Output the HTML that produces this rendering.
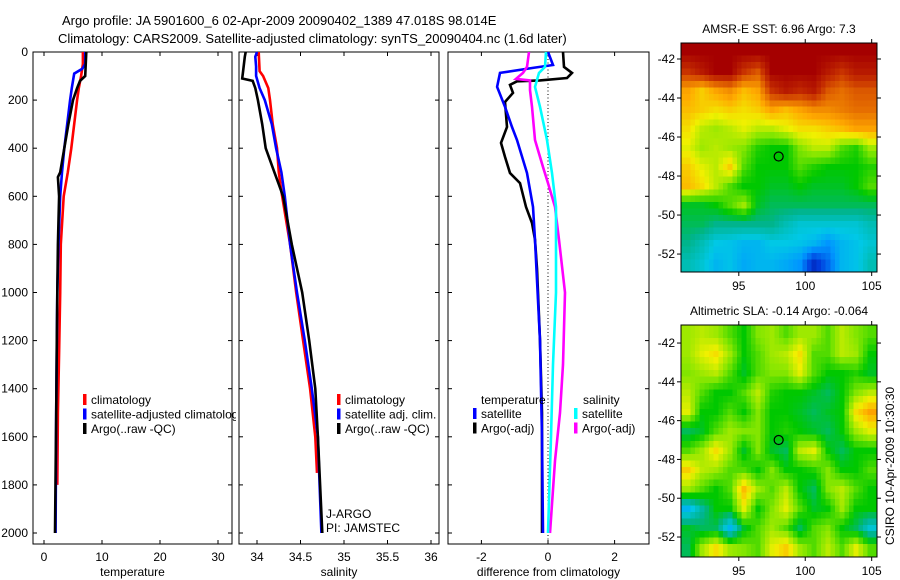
<!DOCTYPE html>
<html><head><meta charset="utf-8">
<style>
html,body{margin:0;padding:0;background:#fff;}
svg{display:block;font-family:"Liberation Sans",Arial,sans-serif;}
</style></head>
<body>
<svg id="fig" width="900" height="580" viewBox="0 0 900 580" xmlns="http://www.w3.org/2000/svg">
<text x="62" y="25" font-size="13">Argo profile: JA 5901600_6 02-Apr-2009 20090402_1389 47.018S 98.014E</text>
<text x="58" y="43" font-size="13">Climatology: CARS2009. Satellite-adjusted climatology: synTS_20090404.nc (1.6d later)</text>
</svg>
<script>
// ---------- data ----------
const depthTicks = [0,200,400,600,800,1000,1200,1400,1600,1800,2000];
const tempTicks = [0,10,20,30];
const salTicks = [34,34.5,35,35.5,36];
const salTickLabels = ["34","34.5","35","35.5","36"];
const diffTicks = [-2,0,2];

const tClimDepth = [0,50,100,150,200,300,400,500,600,800,1000,1250,1500,1800];
const tClimVal   = [6.7,6.7,6.4,6.0,5.7,5.2,4.7,4.1,3.4,2.9,2.8,2.6,2.4,2.3];
const tSatDepth  = [0,50,70,90,150,200,300,400,500,600,800,1000,1500,2000];
const tSatVal    = [7.1,7.1,6.6,5.2,4.8,4.5,4.0,3.5,3.1,2.8,2.5,2.3,2.1,2.0];
const tArgoDepth = [0,100,120,150,200,300,400,500,520,600,800,1000,1200,1500,2000];
const tArgoVal   = [7.3,7.1,6.2,5.7,5.0,4.2,3.5,2.8,2.4,2.6,2.4,2.3,2.2,2.1,1.9];

const sClimDepth = [0,80,100,150,200,300,400,500,580,800,1000,1200,1400,1600,1750];
const sClimVal   = [34.02,34.03,34.07,34.13,34.15,34.18,34.23,34.25,34.28,34.38,34.45,34.53,34.61,34.67,34.69];
const sSatDepth  = [0,20,60,100,150,200,300,400,500,600,800,1000,1200,1400,1600,1800,2000];
const sSatVal    = [34.0,33.98,33.99,33.99,34.03,34.09,34.17,34.22,34.28,34.32,34.38,34.46,34.55,34.63,34.70,34.72,34.74];
const sArgoDepth = [0,20,80,110,120,150,200,300,400,500,550,600,800,1000,1200,1400,1600,2000];
const sArgoVal   = [33.87,33.86,33.84,33.83,33.95,33.98,34.01,34.06,34.10,34.20,34.25,34.30,34.40,34.52,34.60,34.67,34.70,34.75];

const dTempArgoDepth = [0,62,87,108,118,122,137,170,208,312,378,436,503,545,644,711,781,900,1200,1500,2000];
const dTempArgoVal   = [0.45,0.48,0.72,0.57,-0.24,-0.93,-1.14,-1.05,-1.29,-1.23,-1.41,-1.29,-1.14,-0.84,-0.66,-0.48,-0.39,-0.33,-0.24,-0.18,-0.18];
const dTempSatDepth  = [0,54,66,87,145,228,312,366,503,644,781,1200,1600,2000];
const dTempSatVal    = [0,0.15,-0.45,-1.44,-1.53,-1.29,-1.08,-0.93,-0.63,-0.45,-0.39,-0.24,-0.18,-0.15];
const dSalArgoDepth  = [0,62,87,112,118,158,228,366,478,545,644,781,1000,1300,1500,1700,2000];
const dSalArgoVal    = [-0.57,-0.63,-0.75,-0.96,-0.54,-0.54,-0.48,-0.39,-0.15,0,0.21,0.33,0.51,0.45,0.36,0.21,0.06];
const dSalSatDepth   = [0,62,87,145,228,366,503,644,781,1000,1300,1600,2000];
const dSalSatVal     = [-0.06,-0.09,-0.27,-0.39,-0.24,-0.03,0.12,0.24,0.24,0.24,0.15,0.09,0.0];

const sstGrid = [
[1,1,1,1,1,1,1,1,1,1,1,1,1,1],
[0.9,0.95,1,1,0.9,0.85,1,1,1,1,0.95,0.9,0.95,0.95],
[0.75,0.7,0.75,0.78,0.72,0.75,0.9,0.95,0.92,0.95,0.85,0.82,0.85,0.85],
[0.72,0.7,0.68,0.7,0.68,0.7,0.75,0.72,0.75,0.78,0.78,0.8,0.82,0.82],
[0.68,0.62,0.6,0.62,0.65,0.62,0.62,0.65,0.68,0.68,0.7,0.72,0.75,0.75],
[0.65,0.6,0.62,0.6,0.58,0.52,0.5,0.5,0.58,0.62,0.62,0.55,0.52,0.6],
[0.7,0.65,0.62,0.7,0.55,0.5,0.5,0.5,0.55,0.52,0.5,0.5,0.5,0.52],
[0.72,0.68,0.62,0.55,0.5,0.5,0.48,0.48,0.5,0.48,0.48,0.48,0.5,0.55],
[0.48,0.48,0.5,0.55,0.6,0.48,0.45,0.45,0.45,0.45,0.45,0.45,0.45,0.45],
[0.45,0.45,0.42,0.42,0.42,0.42,0.42,0.38,0.35,0.35,0.35,0.35,0.35,0.38],
[0.42,0.38,0.33,0.32,0.3,0.3,0.33,0.33,0.32,0.3,0.25,0.3,0.32,0.35],
[0.38,0.35,0.3,0.32,0.28,0.3,0.3,0.28,0.25,0.12,0.2,0.3,0.32,0.38]];
const slaGrid = [
[0.6,0.62,0.6,0.55,0.5,0.58,0.6,0.55,0.6,0.6,0.55,0.62,0.58,0.55],
[0.6,0.65,0.68,0.6,0.5,0.55,0.6,0.62,0.68,0.55,0.55,0.62,0.6,0.5],
[0.58,0.6,0.62,0.55,0.48,0.55,0.58,0.58,0.65,0.55,0.5,0.5,0.52,0.48],
[0.62,0.55,0.5,0.5,0.55,0.62,0.52,0.5,0.5,0.48,0.45,0.5,0.58,0.62],
[0.65,0.5,0.5,0.55,0.5,0.58,0.5,0.5,0.48,0.45,0.48,0.5,0.68,0.75],
[0.45,0.48,0.55,0.6,0.58,0.58,0.5,0.52,0.5,0.48,0.45,0.5,0.6,0.65],
[0.55,0.6,0.68,0.6,0.48,0.58,0.48,0.45,0.62,0.65,0.5,0.45,0.5,0.5],
[0.7,0.62,0.6,0.55,0.55,0.5,0.58,0.5,0.5,0.52,0.58,0.5,0.5,0.55],
[0.6,0.55,0.5,0.55,0.72,0.6,0.55,0.62,0.5,0.45,0.58,0.62,0.55,0.5],
[0.3,0.4,0.5,0.5,0.65,0.5,0.58,0.65,0.55,0.48,0.5,0.6,0.5,0.5],
[0.48,0.45,0.45,0.3,0.48,0.55,0.6,0.55,0.45,0.55,0.58,0.5,0.45,0.35],
[0.45,0.6,0.68,0.6,0.58,0.55,0.65,0.7,0.6,0.55,0.62,0.55,0.65,0.55]];
const lonTicks = [95,100,105];
const latTicks = [-42,-44,-46,-48,-50,-52];
const argoLon = 98.0, argoLat = -47.0;

// ---------- helpers ----------
const NS = "http://www.w3.org/2000/svg";
const svg = document.getElementById('fig');
function mk(tag, attrs, parent){
  const e = document.createElementNS(NS, tag);
  for (const k in attrs) e.setAttribute(k, attrs[k]);
  (parent||svg).appendChild(e);
  return e;
}
const yD = d => 52 + d * 0.2405;
const TOP = 52, BOT = 544;

function panel(name, x0, x1, xs, ticks, labels, xlabel, showY){
  const g = mk('g', {});
  
  
  const r = mk('rect', {x:x0, y:TOP, width:x1-x0, height:BOT-TOP, fill:'none', stroke:'#000', 'stroke-width':1}, g);
  
  
  ticks.forEach((t,i)=>{
    const x = xs(t);
    mk('line', {x1:x, x2:x, y1:BOT, y2:BOT-4, stroke:'#000'}, g);
    mk('line', {x1:x, x2:x, y1:TOP, y2:TOP+4, stroke:'#000'}, g);
    const tl = mk('text', {x:x, y:561, 'font-size':12, 'text-anchor':'middle'}, g);
    tl.textContent = labels[i];
    
    
  });
  depthTicks.forEach(d=>{
    const y = yD(d);
    mk('line', {x1:x0, x2:x0+4, y1:y, y2:y, stroke:'#000'}, g);
    mk('line', {x1:x1, x2:x1-4, y1:y, y2:y, stroke:'#000'}, g);
    if (showY){
      const tl = mk('text', {x:x0-5, y:y+4, 'font-size':12, 'text-anchor':'end'}, g);
      tl.textContent = String(d);
      
      
    }
  });
  const xl = mk('text', {x:(x0+x1)/2, y:576, 'font-size':12, 'text-anchor':'middle'}, g);
  xl.textContent = xlabel;
  
  
  return g;
}
function line(name, depths, vals, xs, color, g){
  const pts = depths.map((d,i)=> xs(vals[i]).toFixed(1)+','+yD(d).toFixed(1)).join(' ');
  const p = mk('polyline', {points:pts, fill:'none', stroke:color, 'stroke-width':2.6, 'stroke-linejoin':'miter'}, g);
  
  
}
function legend(items, x, y0, g){
  items.forEach((it,i)=>{
    const y = y0 + i*14.5;
    const b = mk('rect', {x:x, y:y-10, width:3.5, height:11, fill:it[1]}, g);
    
    
    const t = mk('text', {x:x+8, y:y, 'font-size':12}, g);
    t.textContent = it[0];
    
    
  });
}

const defs = mk('defs', {});
const cp = mk('clipPath', {id:'clip1'}, defs);
mk('rect', {x:33, y:52, width:203, height:492}, cp);

// Panel 1: temperature
const xT = t => 44 + t*5.8;
const g1 = panel('temperature-panel', 33, 232, xT, tempTicks, tempTicks.map(String), 'temperature', true);
line('temp-climatology-line', tClimDepth, tClimVal, xT, '#ff0000', g1);
line('temp-satellite-line', tSatDepth, tSatVal, xT, '#0000ff', g1);
line('temp-argo-line', tArgoDepth, tArgoVal, xT, '#000000', g1);
const lg1 = mk('g', {'clip-path':'url(#clip1)'}, g1);


legend([['climatology','#ff0000'],['satellite-adjusted climatology','#0000ff'],['Argo(..raw -QC)','#000000']], 83, 404, lg1);

// Panel 2: salinity
const xS = s => 257 + (s-34)*87;
const g2 = panel('salinity-panel', 239, 439, xS, salTicks, salTickLabels, 'salinity', false);
line('sal-climatology-line', sClimDepth, sClimVal, xS, '#ff0000', g2);
line('sal-satellite-line', sSatDepth, sSatVal, xS, '#0000ff', g2);
line('sal-argo-line', sArgoDepth, sArgoVal, xS, '#000000', g2);
legend([['climatology','#ff0000'],['satellite adj. clim.','#0000ff'],['Argo(..raw -QC)','#000000']], 337, 404, g2);
const ja = mk('text', {x:326, y:518, 'font-size':12}, g2);
ja.textContent = 'J-ARGO';


const pi = mk('text', {x:326, y:532, 'font-size':12}, g2);
pi.textContent = 'PI: JAMSTEC';



// Panel 3: difference
const xDf = v => 548 + v*33.3;
const g3 = panel('difference-panel', 448, 649, xDf, diffTicks, diffTicks.map(String), 'difference from climatology', false);
const zl = mk('line', {x1:xDf(0), x2:xDf(0), y1:TOP, y2:BOT, stroke:'#000', 'stroke-dasharray':'1,2.5'}, g3);


line('diff-temp-argo-line', dTempArgoDepth, dTempArgoVal, xDf, '#000000', g3);
line('diff-temp-satellite-line', dTempSatDepth, dTempSatVal, xDf, '#0000ff', g3);
line('diff-sal-argo-line', dSalArgoDepth, dSalArgoVal, xDf, '#ff00ff', g3);
line('diff-sal-satellite-line', dSalSatDepth, dSalSatVal, xDf, '#00ffff', g3);
const th = mk('text', {x:481, y:404, 'font-size':12}, g3);
th.textContent = 'temperature';


const sh = mk('text', {x:583, y:404, 'font-size':12}, g3);
sh.textContent = 'salinity';


legend([['satellite','#0000ff'],['Argo(-adj)','#000000']], 473, 418, g3);
legend([['satellite','#00ffff'],['Argo(-adj)','#ff00ff']], 574, 418, g3);

// ---------- maps ----------
const cmapStops = [
 [0.00,[0,0,120]],[0.15,[0,60,220]],[0.25,[0,150,255]],[0.33,[0,200,230]],
 [0.42,[0,180,140]],[0.50,[0,200,0]],[0.58,[130,230,0]],[0.66,[240,240,0]],
 [0.74,[255,170,0]],[0.82,[230,110,0]],[0.90,[200,50,0]],[1.00,[165,0,0]]];
function cmap(v){
  v = Math.max(0, Math.min(1, v));
  for (let k=1;k<cmapStops.length;k++){
    if (v <= cmapStops[k][0]){
      const a = cmapStops[k-1], b = cmapStops[k];
      const f = (v-a[0])/(b[0]-a[0]);
      const c = a[1].map((x,i)=>Math.round(x+(b[1][i]-x)*f));
      return 'rgb('+c.join(',')+')';
    }
  }
  return 'rgb(165,0,0)';
}
function map(name, grid, title, x0, x1, y0, y1, lat0, lat1, lon0, lon1){
  const g = mk('g', {});
  
  
  const xl = lon => x0 + (lon-lon0)/(lon1-lon0)*(x1-x0);
  const yl = lat => y0 + (lat0-lat)/(lat0-lat1)*(y1-y0);
  const R = grid.length, C = grid[0].length, up = 3;
  const NR = R*up, NC = C*up;
  const dLat = (lat0-lat1)/NR, dLon = (lon1-lon0)/NC;
  const val = (rr, cc) => {
    const r = Math.max(0, Math.min(R-1, rr)), c = Math.max(0, Math.min(C-1, cc));
    const r0 = Math.floor(r), c0 = Math.floor(c);
    const r1 = Math.min(R-1, r0+1), c1 = Math.min(C-1, c0+1);
    const fr = r-r0, fc = c-c0;
    return (grid[r0][c0]*(1-fc)+grid[r0][c1]*fc)*(1-fr) + (grid[r1][c0]*(1-fc)+grid[r1][c1]*fc)*fr;
  };
  const hg = mk('g', {'shape-rendering':'crispEdges'}, g);
  
  
  for (let i=0;i<NR;i++){
    for (let j=0;j<NC;j++){
      const v = val((i+0.5)/up-0.5, (j+0.5)/up-0.5);
      const la = lat0 - i*dLat, lo = lon0 + j*dLon;
      const xa = xl(lo), xb = xl(lo+dLon), ya = yl(la), yb = yl(la-dLat);
      const c = mk('rect', {x:xa.toFixed(2), y:ya.toFixed(2), width:(xb-xa+0.6).toFixed(2), height:(yb-ya+0.6).toFixed(2), fill:cmap(v)}, hg);
      
      
    }
  }
  const fr = mk('rect', {x:x0, y:y0, width:x1-x0, height:y1-y0, fill:'none', stroke:'#000'}, g);
  
  
  lonTicks.forEach(lo=>{
    const x = xl(lo);
    mk('line', {x1:x, x2:x, y1:y1, y2:y1+4, stroke:'#000'}, g);
    mk('line', {x1:x, x2:x, y1:y0, y2:y0-4, stroke:'#000'}, g);
    const t = mk('text', {x:x, y:y1+18, 'font-size':12, 'text-anchor':'middle'}, g);
    t.textContent = String(lo);
    
    
  });
  latTicks.forEach(la=>{
    const y = yl(la);
    mk('line', {x1:x0, x2:x0-4, y1:y, y2:y, stroke:'#000'}, g);
    mk('line', {x1:x1, x2:x1+4, y1:y, y2:y, stroke:'#000'}, g);
    const t = mk('text', {x:x0-6, y:y+4, 'font-size':12, 'text-anchor':'end'}, g);
    t.textContent = String(la);
    
    
  });
  const c = mk('circle', {cx:xl(argoLon), cy:yl(argoLat), r:4.5, fill:'none', stroke:'#000', 'stroke-width':1.2}, g);
  
  
  const tt = mk('text', {x:(x0+x1)/2, y:y0-10, 'font-size':12, 'text-anchor':'middle'}, g);
  tt.textContent = title;
  
  
}
map('sst-map', sstGrid, 'AMSR-E SST: 6.96 Argo: 7.3', 681, 877, 43, 272, -41.18, -52.92, 90.65, 105.4);
map('sla-map', slaGrid, 'Altimetric SLA: -0.14 Argo: -0.064', 681, 877, 325, 557, -41.07, -53.03, 90.65, 105.4);

const stamp = mk('text', {x:0, y:0, 'font-size':12, 'text-anchor':'middle', transform:'translate(894,466) rotate(-90)'});
stamp.textContent = 'CSIRO 10-Apr-2009 10:30:30';


</script>
</body></html>
